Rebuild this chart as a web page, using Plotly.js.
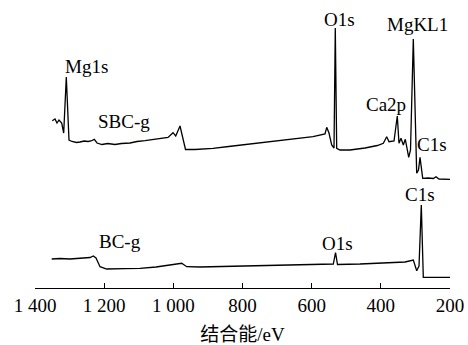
<!DOCTYPE html>
<html>
<head>
<meta charset="utf-8">
<title>XPS survey spectra</title>
<script src="https://cdn.plot.ly/plotly-3.0.1.min.js"></script>
<style>
html, body { margin: 0; padding: 0; background: #ffffff; }
</style>
</head>
<body>
<div id="xps"></div>
<script>
// Binding energy (eV) and intensity (a.u.)
var sbcEnergy = [1350,1342.2,1336.4,1330.6,1322.8,1317.0,1309.5,1306.0,1301.7,1293.0,1280,1269.9,1258,1246.7,1238.1,1228.5,1220.7,1206.3,1190,1168.7,1150,1125.3,1105,1081.9,1060,1038.3,1015.4,1000.9,993.1,980.7,972.0,964.8,937.3,910,885.3,840,787.8,740,691.6,640,596.1,561.4,556.5,549.9,542.1,535.4,531.7,527.6,518.1,489.1,445.8,410,392.8,383.0,376.4,361.9,352.4,347.5,341.7,335.0,329.2,319.4,314.2,306.1,296.3,291.1,286.7,278.9,263.6,248.3,240.5,231.8,200];
var sbcIntensity = [167.3,169,165,168,165,155,211,178,148,146.5,145.5,146,147,146.5,147,148.7,145,143.5,144.5,143.5,144.5,145,146.5,147.3,148.5,149,150.5,155.3,152,162,148,138.5,138.5,139,139.7,141.5,143.7,145.5,147,149.5,151.3,154,160.7,155,143,140,260,139.7,138,138,140,142.5,144.7,151.3,146.3,147,172,144.7,149.7,143,148.7,130.7,138,249,114.7,118,130.7,109.7,110,109.5,111.3,109,108.7];

var bcEnergy = [1351.7,1327.7,1298.8,1260.3,1241.0,1231.4,1223.6,1212.0,1192.7,1140,1096.4,1050,1000.1,975.8,961.3,922.9,860,807.2,750,691.6,614.3,570,537.4,531.0,525.3,460.2,373.5,330.1,306.1,296.3,289.6,283.0,277.2,243.3,200];
var bcIntensity = [29,29.5,29,29.7,30.5,32,30,21.3,19,19.3,19.7,21,23,24.7,21.3,21,21.5,22,22.3,22.5,23.7,23.8,24,35.3,23.5,24,25,26,28,17.3,22,83,10.7,10.7,10.7];

var tickValues = [1400,1200,1000,800,600,400,200];
var tickLabels = ["1 400","1 200","1 000","800","600","400","200"];

var peakLabels = ["Mg1s","SBC-g","O1s","MgKL1","Ca2p","C1s","BC-g","O1s","C1s"];
var peakLabelEnergy = [1252.5,1144.1,518.1,294,385,252,1154.2,526.7,288.2];
var peakLabelIntensity = [222,167,269,263.5,183.5,144,46.5,45,94];

var FF = 'Liberation Serif';
var plotTraces = [
  {x: sbcEnergy, y: sbcIntensity, type: 'scatter', mode: 'lines', line: {color: '#000', width: 1.3}, name: 'SBC-g', hoverinfo: 'skip'},
  {x: bcEnergy, y: bcIntensity, type: 'scatter', mode: 'lines', line: {color: '#000', width: 1.3}, name: 'BC-g', hoverinfo: 'skip'}
];
var plotAnnotations = [];
for (var i = 0; i < peakLabels.length; i++) {
  plotAnnotations.push({
    x: peakLabelEnergy[i], y: peakLabelIntensity[i], xref: 'x', yref: 'y',
    text: peakLabels[i], showarrow: false, xanchor: 'center', yanchor: 'middle',
    font: {family: FF, size: 19, color: '#000'}
  });
}
var plotLayout = {
  width: 468, height: 345,
  margin: {l: 35, r: 18, t: 10, b: 57, pad: 0},
  paper_bgcolor: '#fff', plot_bgcolor: '#fff',
  font: {family: FF, size: 19, color: '#000'},
  showlegend: false,
  xaxis: {
    range: [1400, 200], autorange: false,
    tickmode: 'array', tickvals: tickValues, ticktext: tickLabels,
    ticks: 'inside', ticklen: 5, tickwidth: 1.3, tickcolor: '#000',
    showline: true, linecolor: '#000', linewidth: 1.3,
    showgrid: false, zeroline: false,
    tickfont: {family: FF, size: 19, color: '#000'},
    title: {text: '结合能/eV', font: {family: FF, size: 19, color: '#000'}}
  },
  yaxis: {range: [0, 278], autorange: false, showticklabels: false, showline: false, ticks: '', showgrid: false, zeroline: false},
  annotations: plotAnnotations
};
Plotly.newPlot('xps', plotTraces, plotLayout, {displayModeBar: false}).then(function (gd) {
  var texts = gd.querySelectorAll('text');
  for (var k = 0; k < texts.length; k++) {
    texts[k].style.setProperty('font-family', "'Liberation Serif', 'Noto Sans CJK SC', serif", 'important');
  }
});
</script>
</body>
</html>
